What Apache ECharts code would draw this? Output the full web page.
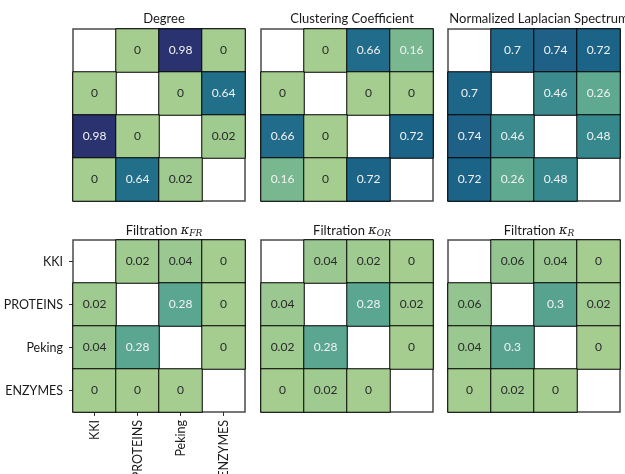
<!DOCTYPE html>
<html>
<head>
<meta charset="utf-8">
<script src="https://cdn.jsdelivr.net/npm/echarts@6/dist/echarts.min.js"></script>
<style>
  html, body { margin: 0; padding: 0; background: #fff; }
  #chart { width: 625px; height: 474px; }
</style>
</head>
<body>
<div id="chart"></div>
<script>
// Datasets compared in every matrix (rows top to bottom, columns left to right)
const datasets = ['KKI', 'PROTEINS', 'Peking', 'ENZYMES'];

// Pairwise distance matrices; null marks the empty diagonal
const degree = [
  [null, 0, 0.98, 0],
  [0, null, 0, 0.64],
  [0.98, 0, null, 0.02],
  [0, 0.64, 0.02, null]
];
const clustering = [
  [null, 0, 0.66, 0.16],
  [0, null, 0, 0],
  [0.66, 0, null, 0.72],
  [0.16, 0, 0.72, null]
];
const laplacian = [
  [null, 0.7, 0.74, 0.72],
  [0.7, null, 0.46, 0.26],
  [0.74, 0.46, null, 0.48],
  [0.72, 0.26, 0.48, null]
];
const kappaFR = [
  [null, 0.02, 0.04, 0],
  [0.02, null, 0.28, 0],
  [0.04, 0.28, null, 0],
  [0, 0, 0, null]
];
const kappaOR = [
  [null, 0.04, 0.02, 0],
  [0.04, null, 0.28, 0.02],
  [0.02, 0.28, null, 0],
  [0, 0.02, 0, null]
];
const kappaR = [
  [null, 0.06, 0.04, 0],
  [0.06, null, 0.3, 0.02],
  [0.04, 0.3, null, 0],
  [0, 0.02, 0, null]
];

const FONT = 'Lato, "DejaVu Sans", sans-serif';

// Panel definitions: matrix and title (rich text)
const panels = [
  { m: degree,     title: 'Degree' },
  { m: clustering, title: 'Clustering Coefficient' },
  { m: laplacian,  title: 'Normalized Laplacian Spectrum' },
  { m: kappaFR,    title: 'Filtration {k|κ}{s|FR}' },
  { m: kappaOR,    title: 'Filtration {k|κ}{s|OR}' },
  { m: kappaR,     title: 'Filtration {k|κ}{s|R}' }
];

const colLeft = [73, 261, 448];
const rowTop = [29, 240];
const SIZE = 172;

// crest-like sequential palette, 0 → 1
const crest = ['#a5cd90', '#7dba91', '#59a590', '#40908e', '#287a8c', '#1c6488', '#254b7f', '#2b2e6c'];

const grids = [], xAxes = [], yAxes = [], series = [], titles = [];

panels.forEach((p, i) => {
  const r = Math.floor(i / 3), c = i % 3;
  const left = colLeft[c], top = rowTop[r];
  const labelled = (i === 3);
  grids.push({
    left: left, top: top, width: SIZE, height: SIZE,
    outerBoundsMode: 'none', containLabel: false,
    show: true, backgroundColor: '#fff', borderColor: '#4a4a4a', borderWidth: 1.5
  });
  xAxes.push({
    type: 'category', gridIndex: i, data: datasets, position: 'bottom',
    axisLine: { show: false },
    splitLine: { show: false },
    axisTick: { show: labelled, alignWithLabel: true, length: 4, lineStyle: { color: '#333' } },
    axisLabel: { show: labelled, rotate: 90, margin: 8, color: '#1a1a1a', fontSize: 12.5, fontFamily: FONT }
  });
  yAxes.push({
    type: 'category', gridIndex: i, data: datasets, inverse: true,
    axisLine: { show: false },
    splitLine: { show: false },
    axisTick: { show: labelled, alignWithLabel: true, length: 4, lineStyle: { color: '#333' } },
    axisLabel: { show: labelled, margin: 10, color: '#1a1a1a', fontSize: 12.5, fontFamily: FONT }
  });
  const data = [];
  p.m.forEach((row, ri) => {
    row.forEach((v, ci) => {
      if (v === null) return;
      data.push({
        value: [ci, ri, v],
        label: { color: v >= 0.1 ? '#f2f2f2' : '#2a2a2a' }
      });
    });
  });
  series.push({
    type: 'heatmap', xAxisIndex: i, yAxisIndex: i, data: data,
    itemStyle: { borderColor: '#000', borderWidth: 1 },
    label: {
      show: true, fontSize: 12, fontFamily: FONT,
      formatter: (d) => String(d.value[2])
    },
    emphasis: { disabled: true }
  });
  titles.push({
    text: p.title,
    left: left + SIZE / 2,
    top: top - 22,
    textAlign: 'center',
    textStyle: {
      fontSize: 13, fontWeight: 'normal', fontFamily: FONT, color: '#1a1a1a',
      rich: {
        k: { fontSize: 13, fontStyle: 'italic', fontFamily: '"DejaVu Serif", serif', color: '#1a1a1a' },
        s: { fontSize: 9, fontStyle: 'italic', fontFamily: '"DejaVu Serif", serif', color: '#1a1a1a', padding: [6, 0, 0, 0] }
      }
    }
  });
});

const chart = echarts.init(document.getElementById('chart'), null, { renderer: 'canvas' });
chart.setOption({
  backgroundColor: '#fff',
  animation: false,
  title: titles,
  grid: grids,
  xAxis: xAxes,
  yAxis: yAxes,
  visualMap: {
    type: 'continuous', show: false, min: 0, max: 1, dimension: 2,
    seriesIndex: [0, 1, 2, 3, 4, 5],
    inRange: { color: crest }
  },
  series: series
});
</script>
</body>
</html>
